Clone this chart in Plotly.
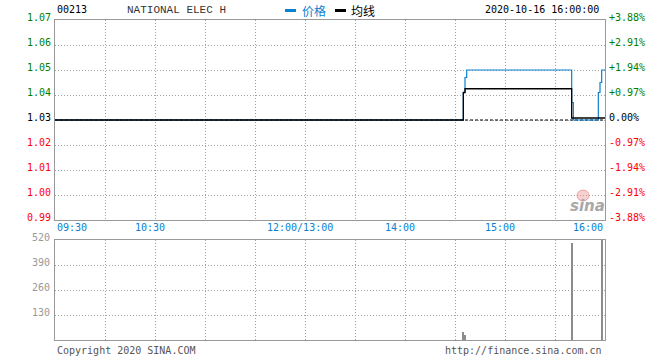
import plotly.graph_objects as go

# ---------------- data ----------------
symbol = "00213"
name = "NATIONAL ELEC H"
timestamp = "2020-10-16 16:00:00"
prev_close = 1.03

# minute index from 09:30 (0) to 16:00 (330), lunch break removed
price_minutes = [0, 245, 246, 247, 310, 311, 326, 327, 328, 330]
price_values = [1.03, 1.041, 1.047, 1.05, 1.037, 1.03, 1.041, 1.045, 1.05, 1.05]

avg_minutes = [0, 245, 246, 310, 330]
avg_values = [1.03, 1.041, 1.0425, 1.0308, 1.0308]

vol_minutes = [245, 246, 310, 328]
vol_values = [42, 25, 506, 560]

price_levels = [1.07, 1.06, 1.05, 1.04, 1.03, 1.02, 1.01, 1.00, 0.99]
vol_levels = [520, 390, 260, 130]
time_labels = ["09:30", "10:30", "12:00/13:00", "14:00", "15:00", "16:00"]
time_label_pos = [0, 57, 147, 207, 267, 330]

# ---------------- layout helpers ----------------
W, H = 660, 360
L, R = 55, 605
MT, MB = 20, 220
VT, VB = 240, 340


def px(x):
    return x / W


def py(y):
    return 1 - y / H


MONO = "DejaVu Sans Mono"
BLUE = "#0b80d0"
GREEN = "#008000"
RED = "#ff0000"
GRID = "#a0a0a0"
FRAME = "#999999"

fig = go.Figure()

# previous close dashed line
fig.add_trace(go.Scatter(x=[0, 330], y=[prev_close, prev_close], mode="lines",
                         line=dict(color="#000000", width=1, dash="3px,2px"),
                         hoverinfo="skip", showlegend=False, xaxis="x", yaxis="y"))
# price line
fig.add_trace(go.Scatter(x=price_minutes, y=price_values, mode="lines",
                         line=dict(color=BLUE, width=1.2, shape="hv"),
                         showlegend=False, xaxis="x", yaxis="y"))
# average line
fig.add_trace(go.Scatter(x=avg_minutes, y=avg_values, mode="lines",
                         line=dict(color="#000000", width=1.3, shape="hv"),
                         showlegend=False, xaxis="x", yaxis="y"))
# volume
fig.add_trace(go.Bar(x=vol_minutes, y=vol_values, width=0.6,
                     marker=dict(color="#8c8c8c", line=dict(width=0)),
                     showlegend=False, xaxis="x2", yaxis="y2"))

axis_common = dict(showgrid=True, gridcolor=GRID, griddash="1px,2px", gridwidth=1,
                   showline=True, linecolor=FRAME, linewidth=1, mirror=True,
                   showticklabels=False, ticks="", zeroline=False, fixedrange=True)

fig.update_layout(
    width=W, height=H, margin=dict(l=0, r=0, t=0, b=0),
    paper_bgcolor="white", plot_bgcolor="white",
    bargap=0,
    xaxis=dict(domain=[px(L), px(R)], range=[0, 330], dtick=30, tick0=0,
               anchor="y", **axis_common),
    yaxis=dict(domain=[py(MB), py(MT)], range=[0.99, 1.07], dtick=0.01, tick0=0.99,
               anchor="x", **axis_common),
    xaxis2=dict(domain=[px(L), px(R)], range=[0, 330], dtick=30, tick0=0,
                anchor="y2", **axis_common),
    yaxis2=dict(domain=[py(VB), py(VT)], range=[0, 520], dtick=130, tick0=0,
                anchor="x2", **axis_common),
)

ann = []
# price labels (left) and percent labels (right)
for lv in price_levels:
    if abs(lv - prev_close) < 1e-9:
        col = "#000000"
    elif lv > prev_close:
        col = GREEN
    else:
        col = RED
    pct = (lv - prev_close) / prev_close * 100
    if abs(pct) < 1e-9:
        ptxt = "0.00%"
    else:
        ptxt = f"{pct:+.2f}%"
    ann.append(dict(x=px(L - 2), y=lv, xref="paper", yref="y", text=f"{lv:.2f}",
                    showarrow=False, xanchor="right", yanchor="middle", yshift=3,
                    font=dict(family=MONO, size=10, color=col)))
    ann.append(dict(x=px(R + 2), y=lv, xref="paper", yref="y", text=ptxt,
                    showarrow=False, xanchor="left", yanchor="middle", yshift=3,
                    font=dict(family=MONO, size=10, color=col)))

# volume labels
for v in vol_levels:
    ann.append(dict(x=px(L - 3), y=v, xref="paper", yref="y2", text=str(v),
                    showarrow=False, xanchor="right", yanchor="middle", yshift=3,
                    font=dict(family=MONO, size=10, color="#999999")))

# time labels
for i, (pos, lab) in enumerate(zip(time_label_pos, time_labels)):
    if i == 0:
        xa = "left"
    elif i == len(time_labels) - 1:
        xa = "right"
    else:
        xa = "center"
    ann.append(dict(x=pos, y=py(227), xref="x", yref="paper", text=lab,
                    showarrow=False, xanchor=xa, yanchor="middle",
                    font=dict(family=MONO, size=10, color=BLUE)))

# header
ann.append(dict(x=px(55), y=py(9), xref="paper", yref="paper", text=symbol,
                showarrow=False, xanchor="left", yanchor="middle",
                font=dict(family=MONO, size=10, color="#000000")))
ann.append(dict(x=px(176), y=py(10), xref="paper", yref="paper", text=name,
                showarrow=False, xanchor="center", yanchor="middle",
                font=dict(family="Liberation Mono", size=11, color="#333333")))
ann.append(dict(x=px(300), y=py(10), xref="paper", yref="paper", text="价格",
                showarrow=False, xanchor="left", yanchor="middle",
                font=dict(family="Noto Sans CJK SC", size=12, color=BLUE)))
ann.append(dict(x=px(349), y=py(10), xref="paper", yref="paper", text="均线",
                showarrow=False, xanchor="left", yanchor="middle",
                font=dict(family="Noto Sans CJK SC", size=12, color="#000000")))
ann.append(dict(x=px(601), y=py(9), xref="paper", yref="paper", text=timestamp,
                showarrow=False, xanchor="right", yanchor="middle",
                font=dict(family=MONO, size=10, color="#000000")))

# footer
ann.append(dict(x=px(55), y=py(350), xref="paper", yref="paper",
                text="Copyright 2020 SINA.COM", showarrow=False,
                xanchor="left", yanchor="middle",
                font=dict(family=MONO, size=10, color="#555555")))
ann.append(dict(x=px(604), y=py(350), xref="paper", yref="paper",
                text="http://finance.sina.com.cn", showarrow=False,
                xanchor="right", yanchor="middle",
                font=dict(family=MONO, size=10, color="#555555")))

# sina watermark
ann.append(dict(x=px(587), y=py(206), xref="paper", yref="paper",
                text="<b><i>sina</i></b>", showarrow=False,
                xanchor="center", yanchor="middle",
                font=dict(family="DejaVu Sans", size=15, color="#a8a8a8")))

fig.update_layout(annotations=ann)

shapes = [
    dict(type="rect", xref="paper", yref="paper", x0=px(285), x1=px(296),
         y0=py(12), y1=py(9), fillcolor=BLUE, line=dict(width=0)),
    dict(type="rect", xref="paper", yref="paper", x0=px(335), x1=px(346),
         y0=py(12), y1=py(9), fillcolor="#000000", line=dict(width=0)),
    dict(type="circle", xref="paper", yref="paper", x0=px(577), x1=px(589),
         y0=py(201), y1=py(190), fillcolor="rgba(240,150,150,0.45)",
         line=dict(color="rgba(230,120,120,0.6)", width=1)),
]
fig.update_layout(shapes=shapes)

fig.write_html("out.html", config={"displayModeBar": False},
               post_script="document.body.style.margin='0';document.body.style.padding='0';document.body.style.overflow='hidden';")
